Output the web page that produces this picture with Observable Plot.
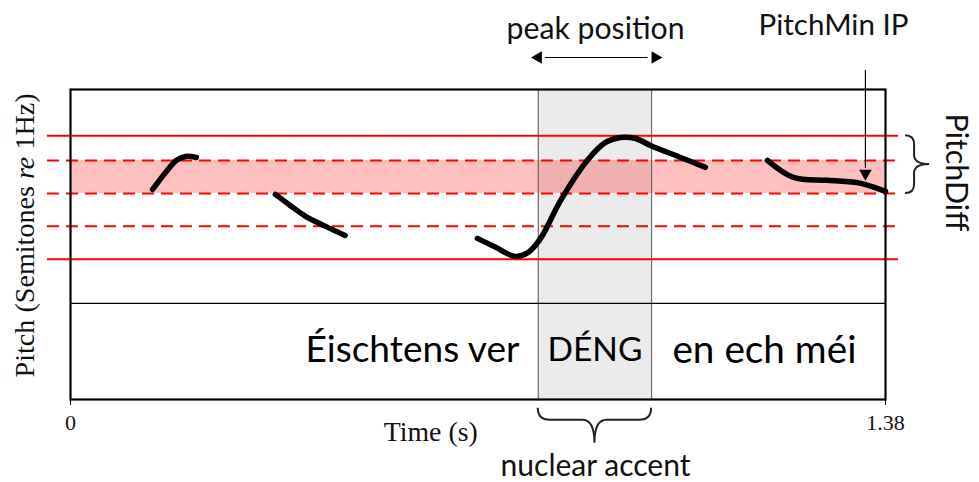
<!DOCTYPE html>
<html><head><meta charset="utf-8">
<script src="https://cdn.jsdelivr.net/npm/d3@7"></script>
<script src="https://cdn.jsdelivr.net/npm/@observablehq/plot@0.6"></script>
<style>body{margin:0;background:#fff}</style>
</head><body><div id="chart"></div>
<script>
// ---- data ----
const timeDomain = [0, 1.38];
const pitchDomain = [81.5, 100.3];
const tickValues = [0, 1.38];
const tickLabels = ["0", "1.38"];
const refLevels = [97.5, 96, 94, 92, 90];
const refDashed = [false, true, true, true, false];
const refExtent = [-0.039, 1.402];
const bandLevels = [94, 96];
const accentSpan = [0.792, 0.984];
const dividerLevel = 87.33;

const seg1T = [0.139, 0.161, 0.179, 0.195, 0.213];
const seg1P = [94.24, 95.27, 96.0, 96.24, 96.18];
const seg2T = [0.347, 0.372, 0.398, 0.432, 0.465];
const seg2P = [93.94, 93.27, 92.61, 92.0, 91.45];
const seg3T = [0.689, 0.720, 0.753, 0.775, 0.796, 0.830, 0.875, 0.906, 0.931, 0.957, 0.982, 1.033, 1.075];
const seg3P = [91.27, 90.73, 90.18, 90.42, 91.27, 93.58, 96.0, 97.09, 97.39, 97.33, 96.91, 96.18, 95.58];
const seg4T = [1.180, 1.224, 1.282, 1.338, 1.380];
const seg4P = [96.0, 94.97, 94.79, 94.61, 94.12];

const words = ["Éischtens ver", "DÉNG", "en ech méi"];
const wordT = [0.579, 0.888, 1.175];
const wordP = 84.48;

const peakArrowT = [0.792, 0.990];
const peakArrowP = 102.24;
const pitchMinT = 1.346;
const pitchMinP = [101.45, 94.91];
const pitchDiffBrace = {t: 1.414, p: [97.5, 94]};
const accentBraceP = 80.97;

const labels = [
  {text: "peak position", t: 0.889, p: 103.95, size: 28, w: 178, font: "Lato", rotate: 0},
  {text: "PitchMin IP", t: 1.292, p: 104.2, size: 28, w: 150, font: "Lato", rotate: 0},
  {text: "nuclear accent", t: 0.889, p: 77.45, size: 28, w: 190, font: "Lato", rotate: 0},
  {text: "PitchDiff", t: 1.499, p: 95.27, size: 28, w: 118, font: "Lato", rotate: 90},
  {text: "Time (s)", t: 0.610, p: 79.5, size: 22, w: 94, font: "Liberation Serif", rotate: 0},
  {text: "Pitch (Semitones re 1Hz)", t: -0.077, p: 91.45, size: 22, w: 284, font: "Liberation Serif", rotate: -90, cls: "ylab"}
];

// ---- tables ----
const segs = [[seg1T, seg1P], [seg2T, seg2P], [seg3T, seg3P], [seg4T, seg4P]];
const curve = segs.flatMap(([T, P], s) => T.map((t, i) => ({seg: s, t, p: P[i]})));
const refs = refLevels.map((p, i) => ({p, dashed: refDashed[i]}));
const wordRows = words.map((w, i) => ({w, t: wordT[i], p: wordP}));
const ticks = tickValues.map((t, i) => ({t, label: tickLabels[i]}));

function braceMark(kind) {
  return (index, scales) => {
    const g = document.createElementNS("http://www.w3.org/2000/svg", "path");
    let d;
    if (kind === "right") {
      const x0 = scales.x(pitchDiffBrace.t), y1 = scales.y(pitchDiffBrace.p[0]), y2 = scales.y(pitchDiffBrace.p[1]);
      const ym = (y1 + y2) / 2, r = 9, w = 24;
      d = `M${x0},${y1}Q${x0+r},${y1} ${x0+r},${y1+r}L${x0+r},${ym-r}Q${x0+r},${ym} ${x0+w},${ym}Q${x0+r},${ym} ${x0+r},${ym+r}L${x0+r},${y2-r}Q${x0+r},${y2} ${x0},${y2}`;
    } else {
      const y0 = scales.y(accentBraceP), x1 = scales.x(accentSpan[0]), x2 = scales.x(accentSpan[1]);
      const xm = (x1 + x2) / 2, r = 12, w = 35;
      d = `M${x1},${y0}Q${x1},${y0+r} ${x1+r},${y0+r}L${xm-r},${y0+r}Q${xm},${y0+r} ${xm},${y0+w}Q${xm},${y0+r} ${xm+r},${y0+r}L${x2-r},${y0+r}Q${x2},${y0+r} ${x2},${y0}`;
    }
    g.setAttribute("d", d);
    g.setAttribute("fill", "none");
    g.setAttribute("stroke", "#222");
    g.setAttribute("stroke-width", "2");
    return g;
  };
}

const chart = Plot.plot({
  width: 979, height: 482,
  marginLeft: 70, marginRight: 94, marginTop: 89, marginBottom: 83,
  x: {domain: timeDomain},
  y: {domain: pitchDomain},
  style: {background: "#fff", overflow: "visible"},
  marks: [
    Plot.rect([accentSpan], {x1: d => d[0], x2: d => d[1], y1: pitchDomain[0], y2: pitchDomain[1], fill: "#ebebeb"}),
    Plot.rect([bandLevels], {x1: timeDomain[0], x2: timeDomain[1], y1: d => d[0], y2: d => d[1], fill: "red", fillOpacity: 0.25}),
    Plot.ruleY(refs.filter(d => !d.dashed), {y: "p", x1: refExtent[0], x2: refExtent[1], stroke: "red", strokeWidth: 2, clip: false}),
    Plot.ruleY(refs.filter(d => d.dashed), {y: "p", x1: refExtent[0], x2: refExtent[1], stroke: "red", strokeWidth: 2, strokeDasharray: "12,7", clip: false}),
    Plot.ruleX(accentSpan, {y1: pitchDomain[0], y2: pitchDomain[1], stroke: "#555", strokeWidth: 1}),
    Plot.line(curve, {x: "t", y: "p", z: "seg", stroke: "black", strokeWidth: 5.5, curve: "catmull-rom"}),
    Plot.ruleY([dividerLevel], {x1: timeDomain[0], x2: timeDomain[1], stroke: "black", strokeWidth: 1.2}),
    Plot.frame({stroke: "black", strokeWidth: 2.2}),
    Plot.axisX({ticks: tickValues, tickFormat: () => "", tickSize: 6, label: null, stroke: "black"}),
    Plot.text(ticks, {x: "t", y: pitchDomain[0], dy: 23, text: "label", fontSize: 22, fontFamily: "Liberation Serif", fill: "#111"}),
    Plot.axisY({ticks: [], label: null}),
    Plot.text(wordRows, {x: "t", y: "p", text: "w", fontSize: 40, fontFamily: "Lato", fill: "black", className: "words"}),
    // peak position double arrow
    Plot.ruleY([peakArrowP], {x1: peakArrowT[0] + 0.012, x2: peakArrowT[1] - 0.012, stroke: "black", strokeWidth: 1.2}),
    Plot.dot(peakArrowT.map((t, i) => ({t, r: i ? 90 : -90})), {x: "t", y: peakArrowP, symbol: "triangle2", r: 6, fill: "black", rotate: "r", clip: false}),
    // PitchMin IP arrow
    Plot.ruleX([pitchMinT], {y1: pitchMinP[0], y2: pitchMinP[1] + 0.6, stroke: "black", strokeWidth: 1.2}),
    Plot.dot([pitchMinT], {x: d => d, y: pitchMinP[1], dy: -5, symbol: "triangle2", r: 6, fill: "black", rotate: 180}),
    braceMark("right"),
    braceMark("bottom"),
    Plot.text(labels, {x: "t", y: "p", text: "text", fontSize: 28, rotate: "rotate", fill: "#111", className: "lbl"})
  ]
});
document.getElementById("chart").appendChild(chart);

// style labels: fonts, italic "re", and fit to measured widths
chart.querySelectorAll("text").forEach(el => {
  const lab = labels.find(l => l.text === el.textContent);
  if (!lab) return;
  el.setAttribute("font-family", lab.font);
  el.setAttribute("font-size", lab.size);
  if (lab.cls === "ylab") {
    el.textContent = "";
    const parts = [["Pitch (Semitones ", "normal"], ["re", "italic"], [" 1Hz)", "normal"]];
    parts.forEach(([s, st]) => {
      const ts = document.createElementNS("http://www.w3.org/2000/svg", "tspan");
      ts.textContent = s; ts.setAttribute("font-style", st); el.appendChild(ts);
    });
  }
  const len = el.getComputedTextLength();
  if (len > 0) el.setAttribute("font-size", (lab.size * lab.w / len).toFixed(2));
});
const wordW = [214, 95, 184];
chart.querySelectorAll("text").forEach(el => {
  const i = words.indexOf(el.textContent);
  if (i < 0) return;
  const len = el.getComputedTextLength();
  if (len > 0) el.setAttribute("font-size", (40 * wordW[i] / len).toFixed(2));
});
</script>
</body></html>
